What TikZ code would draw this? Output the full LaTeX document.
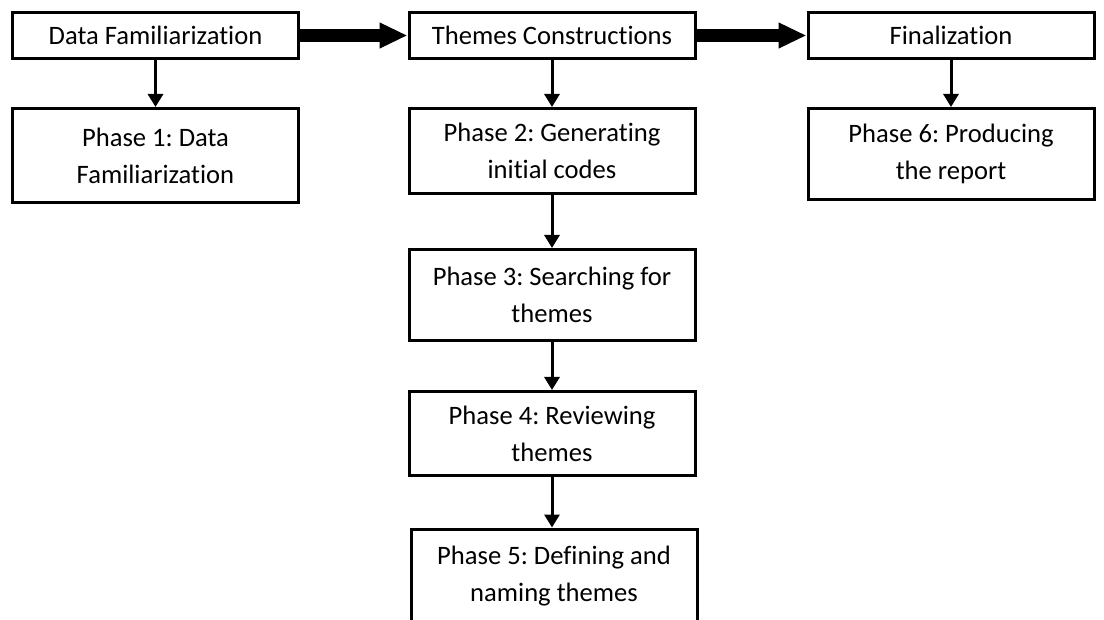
\documentclass[tikz,border=0pt]{standalone}
\usepackage{fontspec}
\setmainfont{Carlito}[RawFeature=-liga]
\usetikzlibrary{arrows.meta}
\frenchspacing

\begin{document}
\begin{tikzpicture}[x=1pt, y=-1pt,
	every node/.style={font=\fontsize{26.6}{37}\selectfont, align=center},
	headbox/.style={draw, line width=3pt, minimum width=286pt, minimum height=46pt, inner sep=0pt},
	phasebox/.style={draw, line width=3pt, minimum width=286pt, inner sep=0pt},
	bigarrow/.style={line width=13pt, -{Triangle[length=28pt, width=24pt]}},
	smallarrow/.style={line width=3pt, -{Triangle[length=13pt, width=15pt]}}]
	\useasboundingbox (0,0) rectangle (1104,620);
	% top row
	\node[headbox] (df) at (155.5,35.5) {Data Familiarization};
	\node[headbox] (tc) at (552,35.5) {Themes Constructions};
	\node[headbox] (fin) at (951,35.5) {Finalization};
	% phases
	\node[phasebox, minimum height=94pt] (p1) at (155.5,155.5) {Phase 1: Data\\Familiarization};
	\node[phasebox, minimum height=85pt] (p2) at (552,151) {Phase 2: Generating\\initial codes};
	\node[phasebox, minimum height=91pt] (p3) at (552,295) {Phase 3: Searching for\\themes};
	\node[phasebox, minimum height=84pt] (p4) at (552,433.5) {Phase 4: Reviewing\\themes};
	\node[phasebox, minimum height=94pt] (p5) at (554,576) {Phase 5: Defining and\\naming themes};
	\node[phasebox, minimum height=91pt] (p6) at (951,154) {Phase 6: Producing\\the report};
	% connectors
	\draw[bigarrow] (df.east) -- (tc.west);
	\draw[bigarrow] (tc.east) -- (fin.west);
	\draw[smallarrow] (df) -- (p1);
	\draw[smallarrow] (tc) -- (p2);
	\draw[smallarrow] (fin) -- (p6);
	\draw[smallarrow] (p2) -- (p3);
	\draw[smallarrow] (p3) -- (p4);
	\draw[smallarrow] (p4.south) -- (p4.south |- p5.north);
\end{tikzpicture}
\end{document}
